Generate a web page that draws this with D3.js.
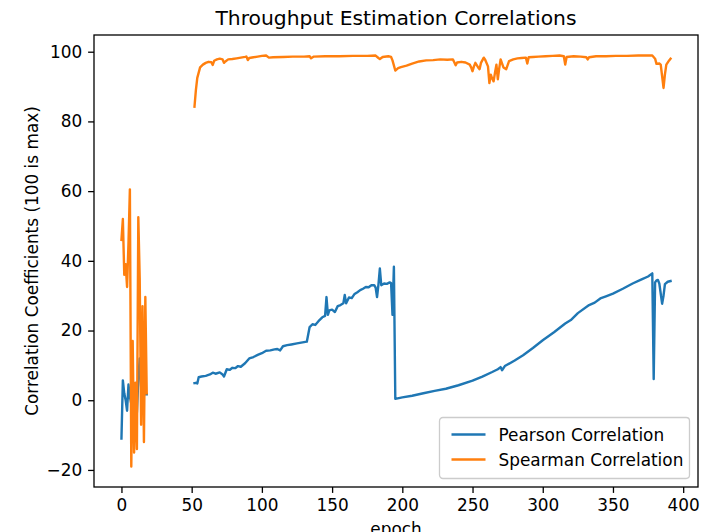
<!DOCTYPE html>
<html>
<head>
<meta charset="utf-8">
<script src="https://cdn.jsdelivr.net/npm/d3@7/dist/d3.min.js"></script>
<style>
  html, body { margin: 0; padding: 0; background: #fff; }
  svg { display: block; }
  text { font-family: "DejaVu Sans", sans-serif; fill: #000; }
</style>
</head>
<body>
<svg id="chart" width="701" height="532"></svg>
<script>
// Early epochs (0-18), logged every epoch
const earlyEpochs   = [0, 1, 2, 3, 4, 5, 6, 7, 8, 9, 10, 11, 12, 13, 14, 15, 16, 17, 18];
const earlyPearson  = [-11, 5.7, 2, 0, -3, 4.5, 1, -1, 3, 0, 2, -3.5, 6, 12, 4, 3, 2, 1.7, 1.7];
const earlySpearman = [46, 52, 36, 39, 32.5, 45, 60.5, -19, 17, -15, 5, -14, 52.5, 35, -7, 27, -12, 29.6, 2];

// Later epochs (52-391)
const pearsonEpochs = [52, 53, 54, 55, 57, 60, 63, 65, 67, 70, 72, 73, 75, 77, 79, 81, 83, 85, 88, 91,
  94, 97, 100, 103, 106, 109, 111, 113, 115, 118, 121, 125, 129, 132, 134, 136, 138, 141, 143, 145,
  146, 147, 148, 150, 152, 154, 156, 158, 159, 160, 162, 164, 166, 168, 170, 172, 174, 176, 178, 180,
  181, 182, 183, 184, 185, 187, 189, 191, 192, 193, 194, 195, 200, 207, 215, 223, 231, 240, 250, 257,
  264, 268, 270, 271, 273, 280, 286, 293, 300, 308, 316, 320, 325, 333, 337, 341, 345, 350, 357, 364,
  370, 375, 378, 379, 380, 381, 382, 383, 385, 386, 387, 389, 391];
const pearsonValues = [4.9, 5.0, 4.8, 6.6, 6.8, 7.0, 7.4, 7.9, 7.6, 8.0, 7.4, 6.8, 8.9, 8.7, 9.3, 9.2, 9.8, 9.6, 10.6, 12.0,
  12.4, 13.0, 13.5, 14.2, 14.3, 14.6, 14.7, 14.3, 15.5, 15.8, 16.0, 16.3, 16.6, 16.8, 21.0, 21.8, 21.6, 23.0, 23.8, 24.2,
  29.6, 24.5, 25.8, 26.0, 25.3, 27.0, 27.3, 27.8, 30.2, 27.8, 29.5, 29.3, 30.5, 31.0, 31.6, 32.0, 32.5, 32.4, 33.0, 33.0,
  32.3, 29.6, 33.2, 37.8, 33.0, 33.5, 33.4, 33.8, 33.6, 24.5, 38.3, 0.4, 0.8, 1.3, 2.0, 2.7, 3.3, 4.3, 5.6, 6.8,
  8.1, 8.9, 9.5, 8.6, 9.8, 11.4, 12.9, 15.0, 17.2, 19.5, 22.0, 23.0, 25.0, 27.3, 28.0, 29.2, 29.8, 30.6, 32.0, 33.5,
  34.6, 35.5, 36.4, 6.1, 33.8, 34.4, 34.5, 33.5, 27.7, 30.0, 33.3, 34.0, 34.2];

const spearmanEpochs = [52, 53, 54, 55, 56, 58, 60, 62, 64, 65, 66, 68, 70, 72, 73, 74, 76, 79, 82, 85,
  88, 89, 90, 91, 94, 97, 100, 103, 105, 108, 115, 122, 130, 134, 135, 137, 145, 155, 165, 175,
  181, 183, 184, 186, 190, 192, 193, 195, 197, 199, 203, 207, 212, 217, 222, 227, 232, 236, 237, 238,
  239, 242, 245, 248, 249, 250, 251, 252, 254, 255, 256, 258, 259, 261, 262, 263, 264, 265, 266, 267,
  268, 269, 270, 272, 274, 276, 279, 282, 285, 288, 289, 290, 293, 297, 302, 307, 312, 315, 316, 317,
  322, 327, 331, 332, 333, 338, 345, 352, 360, 368, 374, 378, 380, 381, 383, 384, 385, 386, 387, 388,
  390, 391];
const spearmanValues = [84.2, 89, 92.5, 94.0, 95.5, 96.3, 96.8, 97.1, 97.0, 96.2, 97.4, 97.8, 98.0, 97.8, 96.8, 97.2, 97.8, 97.9, 98.1, 98.3,
  98.5, 98.6, 97.6, 98.2, 98.4, 98.6, 98.8, 98.9, 98.3, 98.4, 98.5, 98.6, 98.6, 98.7, 98.1, 98.6, 98.7, 98.7, 98.8, 98.8,
  98.9, 98.2, 97.9, 98.5, 98.7, 98.5, 97.5, 94.6, 95.3, 95.6, 96.0, 96.6, 97.2, 97.5, 97.6, 97.8, 97.7, 97.8, 97.0, 96.1,
  96.9, 97.1, 96.9, 96.3, 95.5, 94.4, 95.8, 96.8, 95.5, 95.0, 96.8, 98.3, 97.7, 95.8, 91.0, 93.4, 92.3, 91.5, 94.0, 96.3,
  92.1, 95.2, 97.8, 95.5, 95.0, 97.3, 97.8, 98.1, 98.2, 98.3, 96.6, 98.4, 98.5, 98.6, 98.7, 98.8, 98.9, 98.7, 96.3, 98.5,
  98.7, 98.6, 98.4, 97.8, 98.4, 98.7, 98.7, 98.8, 98.8, 98.9, 98.9, 98.9, 98.0, 96.5, 96.6, 96.3, 93.0, 89.6, 93.5, 96.3,
  97.5, 98.0];

const xTicks = [0, 50, 100, 150, 200, 250, 300, 350, 400];
const yTicks = [-20, 0, 20, 40, 60, 80, 100];
const seriesNames = ["Pearson Correlation", "Spearman Correlation"];
const seriesColors = ["#1f77b4", "#ff7f0e"];

// Join the early run and the later run into one series each, with a break between them
function joinRuns(e1, v1, e2, v2) {
  const pts = e1.map((e, i) => ({ x: e, y: v1[i] }));
  pts.push({ x: NaN, y: NaN });
  e2.forEach((e, i) => pts.push({ x: e, y: v2[i] }));
  return pts;
}
const series = [
  joinRuns(earlyEpochs, earlyPearson, pearsonEpochs, pearsonValues),
  joinRuns(earlyEpochs, earlySpearman, spearmanEpochs, spearmanValues)
];

const margin = { left: 94, right: 3, top: 35, bottom: 45 };
const W = 701, H = 532;
const iw = W - margin.left - margin.right;
const ih = H - margin.top - margin.bottom;

const FS = 16.9;     // tick, label and legend text
const TFS = 20.3;    // title
const TICK = 5.9;

// 5% padding around the data, like the usual auto-limits
const allX = series.flat().map(d => d.x).filter(v => !isNaN(v));
const allY = series.flat().map(d => d.y).filter(v => !isNaN(v));
const [x0, x1] = d3.extent(allX), [y0, y1] = d3.extent(allY);
const px = (x1 - x0) * 0.05, py = (y1 - y0) * 0.05;

const x = d3.scaleLinear().domain([x0 - px, x1 + px]).range([0, iw]);
const y = d3.scaleLinear().domain([y0 - py, y1 + py]).range([ih, 0]);

const svg = d3.select("#chart");
const g = svg.append("g").attr("transform", `translate(${margin.left},${margin.top})`);

const fmt = d => (d < 0 ? "\u2212" + Math.abs(d) : String(d));

const xAxis = g.append("g").attr("transform", `translate(0,${ih})`)
  .call(d3.axisBottom(x).tickValues(xTicks).tickFormat(fmt).tickSize(TICK).tickPadding(5.9));
const yAxis = g.append("g")
  .call(d3.axisLeft(y).tickValues(yTicks).tickFormat(fmt).tickSize(TICK).tickPadding(5.9));
[xAxis, yAxis].forEach(a => {
  a.select(".domain").remove();
  a.selectAll(".tick line").attr("stroke", "#000").attr("stroke-width", 1.3);
  a.selectAll(".tick text").style("font-family", "DejaVu Sans").style("font-size", FS + "px").attr("fill", "#000");
});

// Lines
const line = d3.line().defined(d => !isNaN(d.y)).x(d => x(d.x)).y(d => y(d.y));
g.selectAll("path.series").data(series).join("path")
  .attr("class", "series")
  .attr("fill", "none")
  .attr("stroke", (d, i) => seriesColors[i])
  .attr("stroke-width", 2.4)
  .attr("stroke-linejoin", "round")
  .attr("stroke-linecap", "square")
  .attr("d", line);

// Frame
g.append("rect").attr("width", iw).attr("height", ih)
  .attr("fill", "none").attr("stroke", "#000").attr("stroke-width", 1.3);

// Title and axis labels
svg.append("text").attr("x", margin.left + iw / 2).attr("y", 25)
  .attr("text-anchor", "middle").style("font-size", TFS + "px")
  .text("Throughput Estimation Correlations");
svg.append("text").attr("x", margin.left + iw / 2).attr("y", 535)
  .attr("text-anchor", "middle").style("font-size", FS + "px")
  .text("epoch");
svg.append("text")
  .attr("transform", `translate(38,${margin.top + ih / 2}) rotate(-90)`)
  .attr("text-anchor", "middle").style("font-size", FS + "px")
  .text("Correlation Coefficients (100 is max)");

// Legend, lower right
const LW = 250, LH = 61;
const lg = g.append("g").attr("transform", `translate(${iw - 8.5 - LW},${ih - 8.5 - LH})`);
lg.append("rect").attr("width", LW).attr("height", LH).attr("rx", 3.4)
  .attr("fill", "#fff").attr("fill-opacity", 0.8)
  .attr("stroke", "#cccccc").attr("stroke-width", 1.3);
seriesNames.forEach((name, i) => {
  const row = lg.append("g").attr("transform", `translate(0,${17 + i * 25})`);
  row.append("line").attr("x1", 12).attr("x2", 46).attr("y1", 0).attr("y2", 0)
    .attr("stroke", seriesColors[i]).attr("stroke-width", 2.4);
  row.append("text").attr("x", 59).attr("y", 6).style("font-size", FS + "px").text(name);
});
</script>
</body>
</html>
